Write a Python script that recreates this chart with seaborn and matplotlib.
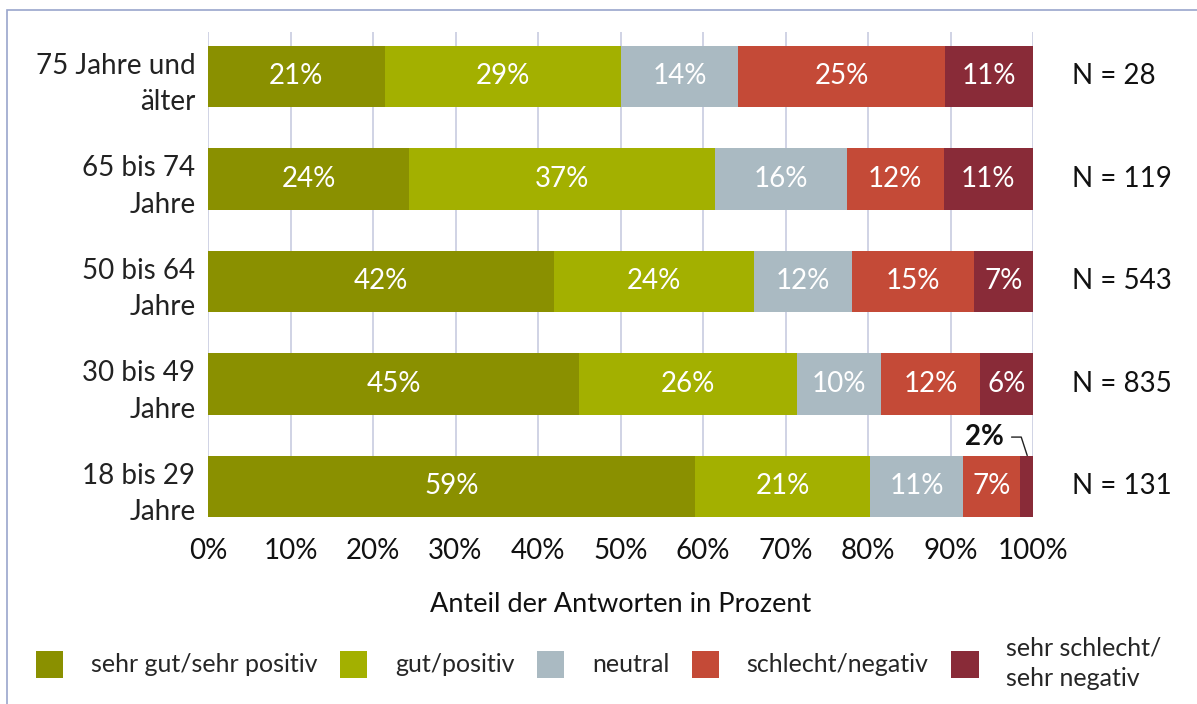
import numpy as np
import pandas as pd
import seaborn as sns
import matplotlib.pyplot as plt
from matplotlib.patches import Rectangle, Patch

categories = ["75 Jahre und\nälter", "65 bis 74\nJahre", "50 bis 64\nJahre",
              "30 bis 49\nJahre", "18 bis 29\nJahre"]
n_labels = ["N = 28", "N = 119", "N = 543", "N = 835", "N = 131"]
series = ["sehr gut/sehr positiv", "gut/positiv", "neutral",
          "schlecht/negativ", "sehr schlecht/\nsehr negativ"]
sehr_gut = [21.4, 24.4, 41.9, 45.0, 59.0]
gut = [28.6, 37.0, 24.3, 26.4, 21.3]
neutral = [14.3, 16.0, 11.8, 10.2, 11.2]
schlecht = [25.0, 11.8, 14.8, 12.0, 6.9]
sehr_schlecht = [10.7, 10.9, 7.2, 6.4, 1.6]
colors = ["#8a9000", "#a3b000", "#aabac2", "#c44a37", "#892b38"]

sns.set_style("white")
plt.rcParams['font.family'] = ['Lato', 'DejaVu Sans']

vals = np.array([sehr_gut, gut, neutral, schlecht, sehr_schlecht])
cum = vals.cumsum(axis=0)
cum[-1] = 100.0

fig = plt.figure(figsize=(11.97, 7.04), dpi=100)
W, H = 1197, 704
ax = fig.add_axes([208 / W, 1 - 517 / H, (1033 - 208) / W, (517 - 32) / H])

# stacked bars: draw cumulative totals from the longest to the shortest
for i in range(len(series) - 1, -1, -1):
    df = pd.DataFrame({"cat": categories, "val": cum[i]})
    sns.barplot(data=df, x="val", y="cat", order=categories, color=colors[i],
                width=0.6, saturation=1, ax=ax, edgecolor="none", zorder=2)

ax.set_xlim(0, 100)
ax.set_ylim(4.3, -0.434)
ax.set_xticks(np.arange(0, 101, 10))
ax.set_xticklabels([f"{t}%" for t in range(0, 101, 10)])
ax.grid(axis="x", color="#c8cce0", linewidth=1.2, zorder=0)
ax.set_axisbelow(True)
for s in ax.spines.values():
    s.set_visible(False)
ax.tick_params(axis="x", length=8, width=1.2, color="#c8cce0", pad=7,
               labelsize=20, labelcolor="#111111")
ax.tick_params(axis="y", length=0, pad=9, labelsize=20, labelcolor="#222222")
for lab in ax.get_yticklabels():
    lab.set_linespacing(1.5)
ax.set_ylabel("")
ax.set_xlabel("Anteil der Antworten in Prozent", fontsize=19.5,
              color="#111111", labelpad=20)

# value labels
for j in range(len(categories)):
    for i in range(len(series)):
        v = vals[i, j]
        if v < 3:
            continue
        mid = cum[i, j] - v / 2
        ax.text(mid, j, f"{round(v)}%", ha="center", va="center",
                color="white", fontsize=20, zorder=3)
    ax.text(104.7, j, n_labels[j], ha="left", va="center", fontsize=20,
            color="#111111", clip_on=False)

# small segment callout
ax.annotate(f"{round(vals[4, 4])}%", xy=(cum[4, 4] - vals[4, 4] / 2 + 0.1, 4 - 0.3),
            xytext=(96.5, 3.52), ha="right", va="center", fontsize=20,
            fontweight="bold", color="#111111",
            arrowprops=dict(arrowstyle="-", color="#222222", lw=1,
                            connectionstyle="angle,angleA=0,angleB=108,rad=0",
                            shrinkA=3, shrinkB=0))

# legend
handles = [Patch(facecolor=c, edgecolor="none") for c in colors]
leg = fig.legend(handles, series, loc="center", bbox_to_anchor=(0.5, 1 - 663 / H),
                 ncol=5, frameon=False, fontsize=18, handlelength=1.1,
                 handleheight=1.3, handletextpad=1.1, columnspacing=0.9)
for t in leg.get_texts():
    t.set_linespacing(1.4)

# outer frame
fig.patches.append(Rectangle((6.5 / W, -0.05), 1.2, 1 - 10 / H + 0.05,
                             transform=fig.transFigure, fill=False,
                             edgecolor="#9aa6cc", linewidth=1.2))

fig.savefig("out.png", dpi=100)
